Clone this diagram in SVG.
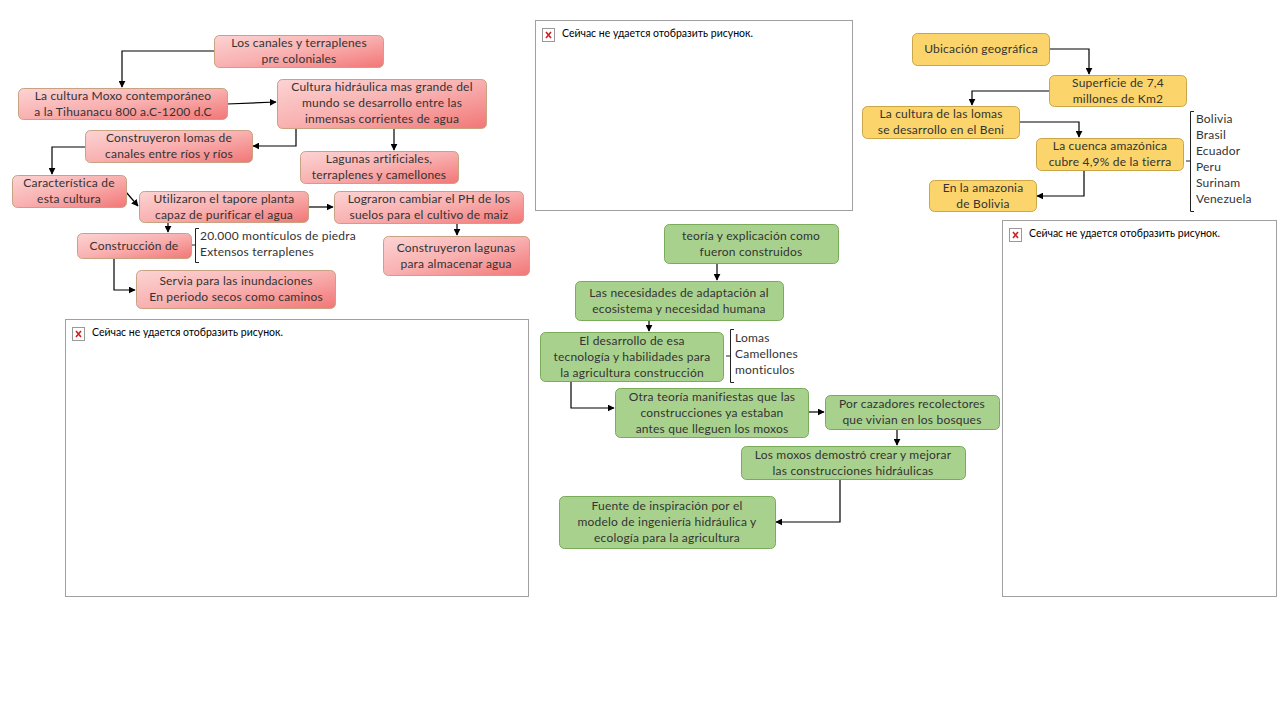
<svg xmlns="http://www.w3.org/2000/svg" width="1280" height="720" viewBox="0 0 1280 720">
<defs>
<linearGradient id="pink" x1="0" y1="0" x2="1" y2="1">
<stop offset="0" stop-color="#fcd3d3"/>
<stop offset="0.5" stop-color="#f9b0b0"/>
<stop offset="1" stop-color="#f27676"/>
</linearGradient>
<marker id="arr" viewBox="0 0 10 10" refX="9" refY="5" markerWidth="7" markerHeight="7" orient="auto" markerUnits="userSpaceOnUse">
<path d="M0,0 L10,5 L0,10 z" fill="#000"/>
</marker>
</defs>
<style>
text{font-family:Lato,"Liberation Sans",sans-serif;font-size:12px;fill:#333;letter-spacing:0.2px;font-variant-ligatures:none;}
.c{text-anchor:middle;}
.p rect{fill:url(#pink);stroke:#c8a283;stroke-width:1;}
.y rect{fill:#fbd56b;stroke:#c9a649;stroke-width:1;}
.g rect{fill:#a9d18e;stroke:#79ab58;stroke-width:1;}
.ph{fill:#fff;stroke:#a0a0a0;stroke-width:1;}
.ic{fill:#fff;stroke:#999;stroke-width:1;}
.icx{stroke:#d02020;stroke-width:1.6;}
.phtext{font-size:10.5px;fill:#000;letter-spacing:0;}
#connectors path{fill:none;stroke:#000;stroke-width:1.2;}
.br{fill:none;stroke:#222;stroke-width:1;}
</style>
<rect width="1280" height="720" fill="#fff"/>

<!-- image placeholders -->
<g id="placeholder-top">
<rect class="ph" x="535.5" y="20.5" width="317" height="190"/>
<rect class="ic" x="542.5" y="28.5" width="12" height="13"/>
<path class="icx" d="M546,32 L551,38 M551,32 L546,38"/>
<text class="phtext" x="562" y="37">Сейчас не удается отобразить рисунок.</text>
</g>
<g id="placeholder-left">
<rect class="ph" x="65.5" y="319.5" width="463" height="277"/>
<rect class="ic" x="72.5" y="327.5" width="12" height="13"/>
<path class="icx" d="M76,331 L81,337 M81,331 L76,337"/>
<text class="phtext" x="92" y="336">Сейчас не удается отобразить рисунок.</text>
</g>
<g id="placeholder-right">
<rect class="ph" x="1002.5" y="220.5" width="274" height="376"/>
<rect class="ic" x="1009.5" y="228.5" width="12" height="13"/>
<path class="icx" d="M1013,232 L1018,238 M1018,232 L1013,238"/>
<text class="phtext" x="1029" y="237">Сейчас не удается отобразить рисунок.</text>
</g>

<g id="connectors">
<path d="M214,51 H122 V87" marker-end="url(#arr)"/>
<path d="M227,104 L276,102" marker-end="url(#arr)"/>
<path d="M296,128 V146 H253" marker-end="url(#arr)"/>
<path d="M394,128 V150" marker-end="url(#arr)"/>
<path d="M85,147 H52 V174" marker-end="url(#arr)"/>
<path d="M126,192 L138,206" marker-end="url(#arr)"/>
<path d="M308,207 H333" marker-end="url(#arr)"/>
<path d="M168,222 V232" marker-end="url(#arr)"/>
<path d="M457,223 V235" marker-end="url(#arr)"/>
<path d="M114,258 V290 H135" marker-end="url(#arr)"/>

<path d="M1049,49 H1089 V74" marker-end="url(#arr)"/>
<path d="M1049,91 H972 V105" marker-end="url(#arr)"/>
<path d="M1019,122 H1079 V137" marker-end="url(#arr)"/>
<path d="M1084,170 V196 H1037" marker-end="url(#arr)"/>

<path d="M717,263 V280" marker-end="url(#arr)"/>
<path d="M649,320 V331" marker-end="url(#arr)"/>
<path d="M571,381 V408 H614" marker-end="url(#arr)"/>
<path d="M808,412 H824" marker-end="url(#arr)"/>
<path d="M897,429 V445" marker-end="url(#arr)"/>
<path d="M840,479 V522 H776" marker-end="url(#arr)"/>
</g>

<!-- pink nodes -->
<g id="n1" class="p"><rect x="214.5" y="35.5" width="169" height="32" rx="5"/>
<text class="c" x="299" y="47">Los canales y terraplenes</text><text class="c" x="299" y="63">pre coloniales</text></g>
<g id="n2" class="p"><rect x="18.5" y="88.5" width="209" height="31" rx="5"/>
<text class="c" x="123" y="100">La cultura Moxo contemporáneo</text><text class="c" x="123" y="116">a la Tihuanacu 800 a.C-1200 d.C</text></g>
<g id="n3" class="p"><rect x="277.5" y="79.5" width="209" height="49" rx="5"/>
<text class="c" x="382" y="91">Cultura hidráulica mas grande del</text><text class="c" x="382" y="107">mundo se desarrollo entre las</text><text class="c" x="382" y="123">inmensas corrientes de agua</text></g>
<g id="n4" class="p"><rect x="85.5" y="130.5" width="167" height="32" rx="5"/>
<text class="c" x="169" y="142">Construyeron lomas de</text><text class="c" x="169" y="158">canales entre ríos y ríos</text></g>
<g id="n5" class="p"><rect x="300.5" y="151.5" width="158" height="32" rx="5"/>
<text class="c" x="379" y="163">Lagunas artificiales,</text><text class="c" x="379" y="179">terraplenes y camellones</text></g>
<g id="n6" class="p"><rect x="12.5" y="175.5" width="114" height="32" rx="5"/>
<text class="c" x="69" y="187">Característica de</text><text class="c" x="69" y="203">esta cultura</text></g>
<g id="n7" class="p"><rect x="139.5" y="191.5" width="169" height="31" rx="5"/>
<text class="c" x="224" y="203">Utilizaron el tapore planta</text><text class="c" x="224" y="219">capaz de purificar el agua</text></g>
<g id="n8" class="p"><rect x="334.5" y="191.5" width="189" height="32" rx="5"/>
<text class="c" x="429" y="203">Lograron cambiar el PH de los</text><text class="c" x="429" y="219">suelos para el cultivo de maiz</text></g>
<g id="n9" class="p"><rect x="77.5" y="233.5" width="114" height="25" rx="5"/>
<text class="c" x="134" y="250">Construcción de</text></g>
<g id="n9list">
<path class="br" d="M199,228.5 H195.5 V262.5 H199 M195.5,245 H192"/>
<text x="200" y="240">20.000 montículos de piedra</text><text x="200" y="256">Extensos terraplenes</text></g>
<g id="n10" class="p"><rect x="383.5" y="236.5" width="146" height="39" rx="5"/>
<text class="c" x="456" y="252">Construyeron lagunas</text><text class="c" x="456" y="268">para almacenar agua</text></g>
<g id="n11" class="p"><rect x="136.5" y="270.5" width="199" height="38" rx="5"/>
<text class="c" x="236" y="285">Servia para las inundaciones</text><text class="c" x="236" y="301">En periodo secos como caminos</text></g>

<!-- yellow nodes -->
<g id="y1" class="y"><rect x="912.5" y="33.5" width="137" height="32" rx="5"/>
<text class="c" x="981" y="53">Ubicación geográfica</text></g>
<g id="y2" class="y"><rect x="1049.5" y="75.5" width="137" height="31" rx="5"/>
<text class="c" x="1118" y="87">Superficie de 7,4</text><text class="c" x="1118" y="103">millones de Km2</text></g>
<g id="y3" class="y"><rect x="862.5" y="106.5" width="157" height="32" rx="5"/>
<text class="c" x="941" y="118">La cultura de las lomas</text><text class="c" x="941" y="134">se desarrollo en el Beni</text></g>
<g id="y4" class="y"><rect x="1036.5" y="138.5" width="147" height="32" rx="5"/>
<text class="c" x="1110" y="150">La cuenca amazónica</text><text class="c" x="1110" y="166">cubre 4,9% de la tierra</text></g>
<g id="y5" class="y"><rect x="929.5" y="180.5" width="107" height="31" rx="5"/>
<text class="c" x="983" y="192">En la amazonia</text><text class="c" x="983" y="208">de Bolivia</text></g>
<g id="y4list">
<path class="br" d="M1194,111.5 H1190.5 V211.5 H1194 M1190.5,161 H1186"/>
<text x="1196" y="123">Bolivia</text><text x="1196" y="139">Brasil</text><text x="1196" y="155">Ecuador</text><text x="1196" y="171">Peru</text><text x="1196" y="187">Surinam</text><text x="1196" y="203">Venezuela</text></g>

<!-- green nodes -->
<g id="g1" class="g"><rect x="664.5" y="224.5" width="174" height="39" rx="5"/>
<text class="c" x="751" y="240">teoría y explicación como</text><text class="c" x="751" y="256">fueron construidos</text></g>
<g id="g2" class="g"><rect x="575.5" y="281.5" width="208" height="39" rx="5"/>
<text class="c" x="679" y="297">Las necesidades de adaptación al</text><text class="c" x="679" y="313">ecosistema y necesidad humana</text></g>
<g id="g3" class="g"><rect x="540.5" y="332.5" width="183" height="49" rx="5"/>
<text class="c" x="632" y="345">El desarrollo de esa</text><text class="c" x="632" y="361">tecnología y habilidades para</text><text class="c" x="632" y="377">la agricultura construcción</text></g>
<g id="g3list">
<path class="br" d="M734,329.5 H730.5 V382.5 H734 M730.5,356 H726"/>
<text x="735" y="342">Lomas</text><text x="735" y="358">Camellones</text><text x="735" y="374">monticulos</text></g>
<g id="g4" class="g"><rect x="615.5" y="388.5" width="193" height="49" rx="5"/>
<text class="c" x="712" y="401">Otra teoría manifiestas  que las</text><text class="c" x="712" y="417">construcciones ya estaban</text><text class="c" x="712" y="433">antes que lleguen los moxos</text></g>
<g id="g5" class="g"><rect x="825.5" y="395.5" width="174" height="34" rx="5"/>
<text class="c" x="912" y="408">Por cazadores recolectores</text><text class="c" x="912" y="424">que vivian en los bosques</text></g>
<g id="g6" class="g"><rect x="741.5" y="446.5" width="224" height="33" rx="5"/>
<text class="c" x="853" y="459">Los moxos demostró crear y mejorar</text><text class="c" x="853" y="475">las construcciones hidráulicas</text></g>
<g id="g7" class="g"><rect x="559.5" y="496.5" width="216" height="52" rx="5"/>
<text class="c" x="667" y="510">Fuente de inspiración por el</text><text class="c" x="667" y="526">modelo de ingeniería hidráulica y</text><text class="c" x="667" y="542">ecología para la agricultura</text></g>
</svg>
